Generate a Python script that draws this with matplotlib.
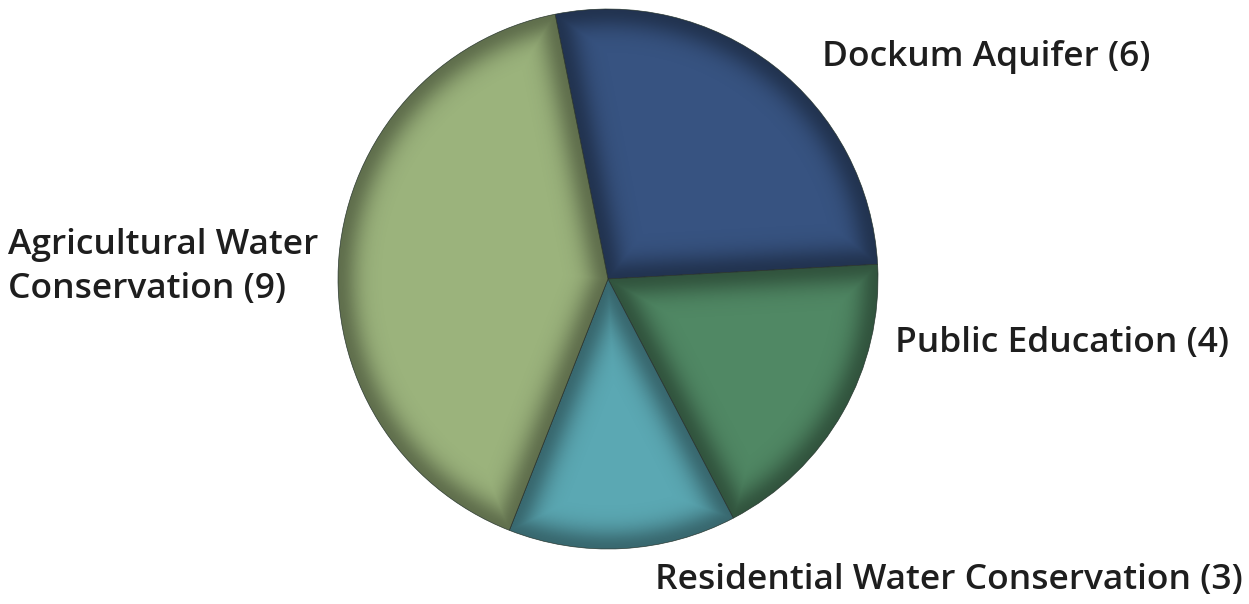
import numpy as np
import matplotlib
matplotlib.use("Agg")
import matplotlib.pyplot as plt

categories = ["Dockum Aquifer", "Public Education", "Residential Water Conservation", "Agricultural Water\nConservation"]
values = [6, 4, 3, 9]
colors = ["#375381", "#508864", "#5BA8B3", "#9BB37C"]

W, H = 1249, 604
fig = plt.figure(figsize=(W / 100, H / 100), dpi=100)
cx, cy, R = 608, 279, 270
ax = fig.add_axes([(cx - R) / W, (H - cy - R) / H, 2 * R / W, 2 * R / H])
wedges, _ = ax.pie(values, colors=colors, startangle=101.3, counterclock=False,
                   wedgeprops=dict(linewidth=0.5, edgecolor="#405048"))
ax.set_xlim(-1, 1)
ax.set_ylim(-1, 1)
ax.set_aspect("equal")
ax.axis("off")

# inner bevel shading for each wedge
n = 700
xs = np.linspace(-1, 1, n)
X, Y = np.meshgrid(xs, xs)
Rr = np.hypot(X, Y)
for w in wedges:
    t1, t2 = np.radians(w.theta1), np.radians(w.theta2)
    d_arc = w.r - Rr
    def dline(t):
        ux, uy = np.cos(t), np.sin(t)
        proj = X * ux + Y * uy
        perp = np.abs(-X * uy + Y * ux)
        return np.where(proj > 0, perp, Rr)
    d = np.minimum(d_arc, np.minimum(dline(t1), dline(t2)))
    d = np.clip(d, 0, None)
    wdt = 0.075
    dark = 0.38 * np.exp(-(d / wdt) ** 2)
    img = np.zeros((n, n, 4))
    img[..., 3] = dark
    im = ax.imshow(img, extent=(-1, 1, -1, 1), origin="lower", interpolation="bilinear", zorder=3)
    im.set_clip_path(w)

fs = 25.5
kw = dict(fontsize=fs, fontweight="semibold", family="Open Sans", color="#1e1e1e", va="center", ha="left")
def px(x, y):
    return x / W, 1 - y / H
fig.text(*px(822, 57), f"{categories[0]} ({values[0]})", **kw)
fig.text(*px(895, 343), f"{categories[1]} ({values[1]})", **kw)
fig.text(*px(655, 580), f"{categories[2]} ({values[2]})", **kw)
fig.text(*px(8, 267), f"{categories[3]} ({values[3]})", linespacing=1.38, **kw)

fig.savefig("out.png", dpi=100, facecolor="white")
